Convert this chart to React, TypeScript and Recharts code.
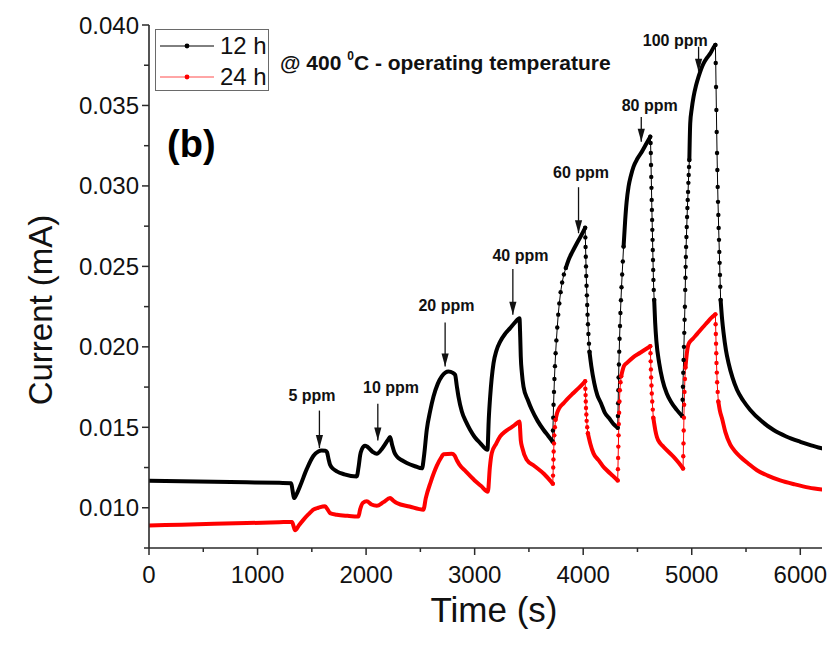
import React from 'react';
import { LineChart, Line, XAxis, YAxis, ReferenceLine, ReferenceDot, Legend, Label } from 'recharts';

type Pt = [number, number];

// ---------- axes ----------
const timeTicks: number[] = [0, 500, 1000, 1500, 2000, 2500, 3000, 3500, 4000, 4500, 5000, 5500, 6000];
const timeDomain: [number, number] = [0, 6200];
const currentTicks: number[] = [0.0075, 0.01, 0.0125, 0.015, 0.0175, 0.02, 0.0225, 0.025, 0.0275, 0.03, 0.0325, 0.035, 0.0375, 0.04];
const currentDomain: [number, number] = [0.0075, 0.04];

// ---------- series: [time (s), current (mA)] ----------
const black12h: Pt[] = [
  [0, 0.01168], [300, 0.01165], [600, 0.01162], [900, 0.01158], [1200, 0.01155], [1310, 0.01153], [1322, 0.0111],
  [1336, 0.0106], [1360, 0.01085], [1392, 0.01135], [1453, 0.0124], [1514, 0.01322], [1560, 0.0135], [1590, 0.01356],
  [1625, 0.01355], [1640, 0.01345], [1655, 0.013], [1668, 0.01267], [1700, 0.0124], [1730, 0.01226], [1800, 0.01208],
  [1914, 0.01195], [1930, 0.0125], [1945, 0.01325], [1960, 0.01362], [1990, 0.01385], [2010, 0.0138], [2060, 0.01348],
  [2098, 0.01335], [2150, 0.0137], [2200, 0.0142], [2221, 0.0144], [2240, 0.0139], [2260, 0.01345], [2283, 0.01319],
  [2330, 0.01295], [2375, 0.01278], [2450, 0.01258], [2515, 0.01245], [2535, 0.0133], [2559, 0.01485], [2590, 0.016],
  [2621, 0.01691], [2660, 0.0177], [2697, 0.01816], [2730, 0.0184], [2759, 0.01847], [2800, 0.01838], [2820, 0.01826],
  [2835, 0.0176], [2851, 0.01691], [2882, 0.01598], [2920, 0.01535], [2958, 0.01485], [3000, 0.0144], [3051, 0.01402],
  [3118, 0.0136], [3130, 0.0155], [3143, 0.01691], [3174, 0.01899], [3200, 0.01975], [3235, 0.02033], [3280, 0.0208],
  [3327, 0.02116], [3370, 0.0215], [3413, 0.02178], [3420, 0.0206], [3425, 0.0194], [3435, 0.0184], [3450, 0.01753],
  [3490, 0.0167], [3527, 0.01609], [3580, 0.0154], [3634, 0.01485], [3680, 0.01445], [3718, 0.01412],
  [3721, 0.0148], [3724, 0.0156], [3727, 0.0164], [3731, 0.0172], [3735, 0.018], [3740, 0.0188], [3746, 0.0196],
  [3753, 0.0204], [3761, 0.0212], [3770, 0.022], [3780, 0.0227], [3792, 0.0234], [3806, 0.024], [3822, 0.0245],
  [3840, 0.0249], [3865, 0.0254], [3900, 0.0259], [3942, 0.02644], [3980, 0.0269], [4018, 0.0274],
  [4020, 0.0268], [4022, 0.0262], [4024, 0.0256], [4026, 0.025], [4028, 0.0244], [4031, 0.0238], [4034, 0.0232],
  [4037, 0.0226], [4040, 0.022], [4044, 0.0214], [4048, 0.0208], [4053, 0.0202], [4058, 0.0197],
  [4075, 0.0188], [4102, 0.01775], [4130, 0.017], [4164, 0.0165], [4200, 0.0159], [4240, 0.01556], [4280, 0.0152],
  [4318, 0.01497], [4320, 0.0157], [4322, 0.0165], [4324, 0.0173], [4326, 0.0181], [4329, 0.0189], [4332, 0.0197],
  [4335, 0.0205], [4339, 0.0213], [4343, 0.0221], [4348, 0.0229], [4353, 0.0237], [4359, 0.0245], [4365, 0.0253],
  [4372, 0.02623], [4387, 0.02789], [4400, 0.029], [4418, 0.02996], [4440, 0.03065], [4464, 0.0312], [4500, 0.0317],
  [4541, 0.03213], [4580, 0.0326], [4618, 0.03306],
  [4621, 0.03267], [4623, 0.03205], [4625, 0.0313], [4627, 0.03056], [4629, 0.02988], [4631, 0.02913], [4633, 0.02851],
  [4635, 0.02789], [4637, 0.02727], [4639, 0.02665], [4641, 0.02602], [4643, 0.0254], [4645, 0.02478], [4647, 0.02416],
  [4650, 0.02354], [4654, 0.02292], [4663, 0.0215], [4675, 0.0203], [4700, 0.019], [4730, 0.01796], [4770, 0.0171],
  [4807, 0.01661], [4860, 0.0161], [4912, 0.0157],
  [4916, 0.01671], [4919, 0.01752], [4922, 0.01839], [4925, 0.01919], [4928, 0.02], [4931, 0.02087], [4934, 0.02168],
  [4937, 0.02249], [4940, 0.02354], [4942, 0.02429], [4944, 0.02497], [4946, 0.02559], [4948, 0.02621], [4951, 0.02683],
  [4954, 0.02745], [4957, 0.02807], [4960, 0.02863], [4963, 0.02913], [4966, 0.02963], [4969, 0.03019], [4972, 0.03068],
  [4975, 0.03118], [4978, 0.03161], [4986, 0.03389], [5000, 0.0348], [5017, 0.03555], [5040, 0.03625], [5063, 0.03679],
  [5109, 0.03762], [5140, 0.03795], [5171, 0.03824], [5210, 0.0387], [5218, 0.03876],
  [5221, 0.03764], [5224, 0.03615], [5227, 0.03472], [5230, 0.03335], [5233, 0.03205], [5236, 0.03099], [5239, 0.02994],
  [5242, 0.02901], [5245, 0.0282], [5248, 0.02739], [5251, 0.02665], [5254, 0.0259], [5257, 0.02522], [5260, 0.02447],
  [5263, 0.02373], [5266, 0.02292], [5280, 0.0217], [5293, 0.02088], [5315, 0.0198], [5339, 0.019], [5375, 0.0181],
  [5417, 0.01733], [5475, 0.01665], [5539, 0.01608], [5640, 0.0154], [5754, 0.01483], [5870, 0.01443], [6000, 0.0141],
  [6100, 0.01388], [6200, 0.01369],
];
// time windows in which the 12 h trace switches abruptly (sparse sampled dots)
const black12hJumps: Pt[] = [[3718, 3840], [4018, 4058], [4318, 4372], [4618, 4654], [4912, 4978], [5218, 5266]];

const red24h: Pt[] = [
  [0, 0.0089], [300, 0.00895], [600, 0.009], [900, 0.00905], [1200, 0.0091], [1318, 0.00912], [1330, 0.0089],
  [1346, 0.0086], [1380, 0.0089], [1422, 0.00925], [1470, 0.0096], [1514, 0.00988], [1560, 0.01], [1622, 0.0101],
  [1645, 0.0099], [1668, 0.00967], [1730, 0.00957], [1830, 0.0095], [1929, 0.00946], [1945, 0.0099], [1969, 0.0103],
  [2006, 0.0104], [2050, 0.0102], [2098, 0.01012], [2160, 0.01035], [2221, 0.0106], [2250, 0.01045], [2283, 0.0103],
  [2400, 0.01008], [2528, 0.00988], [2550, 0.0106], [2595, 0.0116], [2651, 0.0126], [2696, 0.01317], [2713, 0.01333],
  [2790, 0.01335], [2815, 0.01325], [2836, 0.01295], [2858, 0.0127], [2920, 0.01225], [3000, 0.0117], [3060, 0.01135],
  [3122, 0.011], [3140, 0.0125], [3158, 0.0134], [3200, 0.014], [3235, 0.01443], [3284, 0.01475], [3327, 0.01495],
  [3370, 0.01515], [3413, 0.01536], [3425, 0.0142], [3440, 0.0137], [3478, 0.013], [3550, 0.0126], [3640, 0.0121],
  [3720, 0.0115], [3722, 0.012], [3724, 0.0125], [3726, 0.013], [3728, 0.0135], [3731, 0.014], [3734, 0.0145],
  [3739, 0.015], [3745, 0.01547], [3760, 0.0159], [3780, 0.0162], [3820, 0.0165], [3860, 0.0168], [3905, 0.0171],
  [3960, 0.01745], [4018, 0.01786], [4020, 0.0174], [4022, 0.017], [4024, 0.0166], [4026, 0.0162], [4029, 0.0158],
  [4032, 0.0154], [4037, 0.015], [4043, 0.01463], [4065, 0.014], [4095, 0.01338], [4141, 0.01296], [4180, 0.0126],
  [4218, 0.01233], [4270, 0.012], [4318, 0.0117], [4320, 0.0124], [4322, 0.0131], [4324, 0.0138], [4326, 0.0145],
  [4328, 0.0152], [4331, 0.0159], [4334, 0.0166], [4338, 0.0173], [4344, 0.0178], [4350, 0.01817], [4375, 0.0188],
  [4403, 0.019], [4460, 0.01935], [4525, 0.01963], [4575, 0.01985], [4618, 0.02004], [4620, 0.0196], [4622, 0.0191],
  [4624, 0.0186], [4626, 0.0181], [4629, 0.0176], [4632, 0.0171], [4636, 0.0166], [4641, 0.0161], [4646, 0.0156],
  [4665, 0.0148], [4679, 0.0144], [4710, 0.014], [4740, 0.01379], [4790, 0.01345], [4833, 0.01317], [4880, 0.0128],
  [4920, 0.01244], [4922, 0.0132], [4924, 0.014], [4926, 0.0148], [4928, 0.0156], [4930, 0.0164], [4933, 0.0172],
  [4937, 0.018], [4942, 0.01871], [4955, 0.0196], [4971, 0.02017], [5010, 0.0205], [5048, 0.02079], [5100, 0.0212],
  [5140, 0.0215], [5180, 0.0218], [5218, 0.02202], [5220, 0.0214], [5222, 0.0208], [5224, 0.0202], [5226, 0.0196],
  [5228, 0.019], [5231, 0.0184], [5234, 0.0178], [5239, 0.0172], [5245, 0.0166], [5260, 0.016], [5278, 0.01558],
  [5310, 0.0147], [5355, 0.01392], [5400, 0.0135], [5447, 0.01317], [5520, 0.01275], [5601, 0.01233], [5700, 0.012],
  [5815, 0.0117], [5950, 0.01145], [6080, 0.01125], [6200, 0.01113],
];
const red24hJumps: Pt[] = [[3720, 3745], [4018, 4043], [4318, 4350], [4618, 4646], [4920, 4942], [5218, 5245]];

const seriesNames = ['12 h', '24 h'];

// ---------- annotations (time, current) ----------
const annotations = [
  { label: '5 ppm', tx: 1502, ty: 0.01702, ax: 1570, from: 0.01604, to: 0.01371 },
  { label: '10 ppm', tx: 2230, ty: 0.01752, ax: 2108, from: 0.01646, to: 0.01418 },
  { label: '20 ppm', tx: 2740, ty: 0.02261, ax: 2728, from: 0.02151, to: 0.01878 },
  { label: '40 ppm', tx: 3422, ty: 0.02571, ax: 3352, from: 0.02483, to: 0.02199 },
  { label: '60 ppm', tx: 3980, ty: 0.03083, ax: 3957, from: 0.02992, to: 0.02706 },
  { label: '80 ppm', tx: 4613, ty: 0.03503, ax: 4535, from: 0.03429, to: 0.03275 },
  { label: '100 ppm', tx: 4848, ty: 0.03907, ax: 5063, from: 0.03865, to: 0.0371 },
];
const conditionNote = { t: 1207, v: 0.0372 };
const panelNote = { t: 166, v: 0.0318 };

// ---------- helpers ----------
const FONT = '"Liberation Sans", Arial, Helvetica, sans-serif';
const AXIS = '#2a2a2a';
const BLACK = '#000000';
const RED = '#ff0000';

function splitByJumps(points: Pt[], jumps: Pt[]) {
  const smooth: Pt[][] = [];
  const steps: Pt[][] = [];
  let start = -Infinity;
  for (const [a, b] of jumps) {
    smooth.push(points.filter(([t]) => t >= start && t <= a));
    steps.push(points.filter(([t]) => t >= a && t <= b));
    start = b;
  }
  smooth.push(points.filter(([t]) => t >= start));
  return { smooth, steps };
}
const rows = (pts: Pt[]) => pts.map(([t, v]) => ({ t, v }));

const blackParts = splitByJumps(black12h, black12hJumps);
const redParts = splitByJumps(red24h, red24hJumps);

const isMajorTime = (v: number) => v % 1000 === 0;
const isMajorCurrent = (v: number) => Math.abs(v * 200 - Math.round(v * 200)) < 1e-6;

const BottomTick = (p: any) => {
  const { x, y, payload } = p;
  const major = isMajorTime(payload.value);
  return (
    <g>
      <line x1={x} x2={x} y1={y} y2={y + (major ? 7 : 4)} stroke={AXIS} strokeWidth={1.5} />
      {major && (
        <text x={x} y={y + 35} textAnchor="middle" fontSize={24} fontFamily={FONT} fill="#111">
          {payload.value}
        </text>
      )}
    </g>
  );
};
const TopTick = (p: any) => {
  const { x, y, payload } = p;
  const major = isMajorTime(payload.value);
  return <line x1={x} x2={x} y1={y} y2={y + (major ? 7 : 5)} stroke={AXIS} strokeWidth={1.5} />;
};
const LeftTick = (p: any) => {
  const { x, y, payload } = p;
  const major = isMajorCurrent(payload.value);
  return (
    <g>
      <line x1={x - (major ? 7 : 5)} x2={x} y1={y} y2={y} stroke={AXIS} strokeWidth={1.5} />
      {major && (
        <text x={x - 10} y={y + 8.5} textAnchor="end" fontSize={24} fontFamily={FONT} fill="#111">
          {payload.value.toFixed(3)}
        </text>
      )}
    </g>
  );
};
const RightTick = (p: any) => {
  const { x, y, payload } = p;
  const major = isMajorCurrent(payload.value);
  return <line x1={x - (major ? 7 : 5)} x2={x} y1={y} y2={y} stroke={AXIS} strokeWidth={1.5} />;
};

const LegendBox = (props: any) => {
  const all = (props.payload || []) as any[];
  const items = seriesNames
    .map((n) => all.find((it) => it.value === n))
    .filter(Boolean) as any[];
  return (
    <div
      style={{
        width: 114,
        height: 62,
        border: '1px solid #6a6a6a',
        boxSizing: 'border-box',
        background: '#fff',
        position: 'relative',
      }}
    >
      {items.map((it, i) => (
        <div key={i} style={{ position: 'absolute', left: 0, top: 2 + i * 31, height: 28, display: 'flex', alignItems: 'center' }}>
          <svg width={60} height={28} style={{ display: 'block' }}>
            <line x1={4} x2={58} y1={14} y2={14} stroke={it.color} strokeWidth={1} strokeOpacity={i === 1 ? 0.7 : 1} />
            <circle cx={31} cy={14} r={2.4} fill={it.color} />
          </svg>
          <span style={{ fontFamily: FONT, fontSize: 24, color: '#111', marginLeft: 4, lineHeight: '28px', whiteSpace: 'nowrap' }}>
            {it.value}
          </span>
        </div>
      ))}
    </div>
  );
};

export default function App() {
  const ids = { xAxisId: 'b', yAxisId: 'l' } as const;
  return (
    <div style={{ position: 'absolute', left: 0, top: 0, width: 830, height: 646, background: '#fff' }}>
      <LineChart width={830} height={646} margin={{ top: 25, right: 8, bottom: 0, left: 0 }}>
        <XAxis
          xAxisId="b"
          type="number"
          dataKey="t"
          domain={timeDomain}
          ticks={timeTicks}
          interval={0}
          allowDataOverflow
          height={98}
          tickSize={0}
          tickMargin={0}
          tickLine={false}
          axisLine={{ stroke: AXIS, strokeWidth: 1.6 }}
          tick={(p: any) => <BottomTick {...p} />}
        >
          <Label
            content={() => (
              <text x={494} y={622} textAnchor="middle" fontSize={35} fontFamily={FONT} fill="#111">
                Time (s)
              </text>
            )}
          />
        </XAxis>
        <XAxis
          xAxisId="top"
          orientation="top"
          type="number"
          dataKey="t"
          domain={timeDomain}
          ticks={timeTicks}
          interval={0}
          allowDataOverflow
          height={0}
          tickSize={0}
          tickMargin={0}
          tickLine={false}
          axisLine={{ stroke: AXIS, strokeWidth: 1.6 }}
          tick={(p: any) => <TopTick {...p} />}
        />
        <YAxis
          yAxisId="l"
          type="number"
          domain={currentDomain}
          ticks={currentTicks}
          interval={0}
          allowDataOverflow
          width={149}
          tickSize={0}
          tickMargin={0}
          tickLine={false}
          axisLine={{ stroke: AXIS, strokeWidth: 1.6 }}
          tick={(p: any) => <LeftTick {...p} />}
        >
          <Label
            content={() => (
              <text x={52} y={310} transform="rotate(-90 52 310)" textAnchor="middle" fontSize={33} fontFamily={FONT} fill="#111">
                Current (mA)
              </text>
            )}
          />
        </YAxis>
        <YAxis
          yAxisId="r"
          orientation="right"
          type="number"
          domain={currentDomain}
          ticks={currentTicks}
          interval={0}
          allowDataOverflow
          width={0}
          tickSize={0}
          tickMargin={0}
          tickLine={false}
          axisLine={{ stroke: AXIS, strokeWidth: 1.6 }}
          tick={(p: any) => <RightTick {...p} />}
        />

        {blackParts.smooth.map((seg, i) => (
          <Line
            key={'bs' + i}
            {...ids}
            data={rows(seg)}
            dataKey="v"
            name={i === 0 ? seriesNames[0] : seriesNames[0] + ' part'}
            legendType={i === 0 ? 'line' : 'none'}
            type="monotone"
            stroke={BLACK}
            strokeWidth={4}
            strokeLinejoin="round"
            strokeLinecap="round"
            dot={false}
            activeDot={false}
            isAnimationActive={false}
          />
        ))}
        {blackParts.steps.map((seg, i) => (
          <Line
            key={'bj' + i}
            {...ids}
            data={rows(seg)}
            dataKey="v"
            name={seriesNames[0] + ' step'}
            legendType="none"
            type="linear"
            stroke={BLACK}
            strokeWidth={1}
            dot={{ r: 2.2, fill: BLACK, stroke: BLACK, strokeWidth: 0 }}
            activeDot={false}
            isAnimationActive={false}
          />
        ))}
        {redParts.smooth.map((seg, i) => (
          <Line
            key={'rs' + i}
            {...ids}
            data={rows(seg)}
            dataKey="v"
            name={i === 0 ? seriesNames[1] : seriesNames[1] + ' part'}
            legendType={i === 0 ? 'line' : 'none'}
            type="monotone"
            stroke={RED}
            strokeWidth={4}
            strokeLinejoin="round"
            strokeLinecap="round"
            dot={false}
            activeDot={false}
            isAnimationActive={false}
          />
        ))}
        {redParts.steps.map((seg, i) => (
          <Line
            key={'rj' + i}
            {...ids}
            data={rows(seg)}
            dataKey="v"
            name={seriesNames[1] + ' step'}
            legendType="none"
            type="linear"
            stroke={RED}
            strokeWidth={1}
            dot={{ r: 2.2, fill: RED, stroke: RED, strokeWidth: 0 }}
            activeDot={false}
            isAnimationActive={false}
          />
        ))}

        {annotations.map((a) => (
          <ReferenceLine
            key={'al' + a.label}
            {...ids}
            segment={[{ x: a.ax, y: a.from }, { x: a.ax, y: a.to }]}
            stroke="#111"
            strokeWidth={1.3}
            ifOverflow="visible"
          />
        ))}
        {annotations.map((a) => (
          <ReferenceDot
            key={'ah' + a.label}
            {...ids}
            x={a.ax}
            y={a.to}
            r={1}
            ifOverflow="visible"
            shape={(p: any) => (
              <path d={`M${p.cx - 3.6},${p.cy - 13} L${p.cx + 3.6},${p.cy - 13} L${p.cx},${p.cy} Z`} fill="#111" />
            )}
          />
        ))}
        {annotations.map((a) => (
          <ReferenceDot
            key={'at' + a.label}
            {...ids}
            x={a.tx}
            y={a.ty}
            r={1}
            ifOverflow="visible"
            shape={(p: any) => (
              <text x={p.cx} y={p.cy} dy="0.36em" textAnchor="middle" fontSize={16} fontWeight="bold" fontFamily={FONT} fill="#111">
                {a.label}
              </text>
            )}
          />
        ))}
        <ReferenceDot
          {...ids}
          x={conditionNote.t}
          y={conditionNote.v}
          r={1}
          ifOverflow="visible"
          shape={(p: any) => (
            <text x={p.cx} y={p.cy} fontSize={21} fontWeight="bold" fontFamily={FONT} fill="#111">
              {'@ 400 '}
              <tspan fontSize={12} dy={-10}>0</tspan>
              <tspan dy={10}>{'C - operating temperature'}</tspan>
            </text>
          )}
        />
        <ReferenceDot
          {...ids}
          x={panelNote.t}
          y={panelNote.v}
          r={1}
          ifOverflow="visible"
          shape={(p: any) => (
            <text x={p.cx} y={p.cy} fontSize={38} fontWeight="bold" fontFamily={FONT} fill="#000">
              (b)
            </text>
          )}
        />

        <Legend
          layout="vertical"
          align="center"
          verticalAlign="middle"
          content={(p: any) => <LegendBox {...p} />}
          wrapperStyle={{ left: 155, top: 29, width: 114, height: 62 }}
        />
      </LineChart>
    </div>
  );
}
